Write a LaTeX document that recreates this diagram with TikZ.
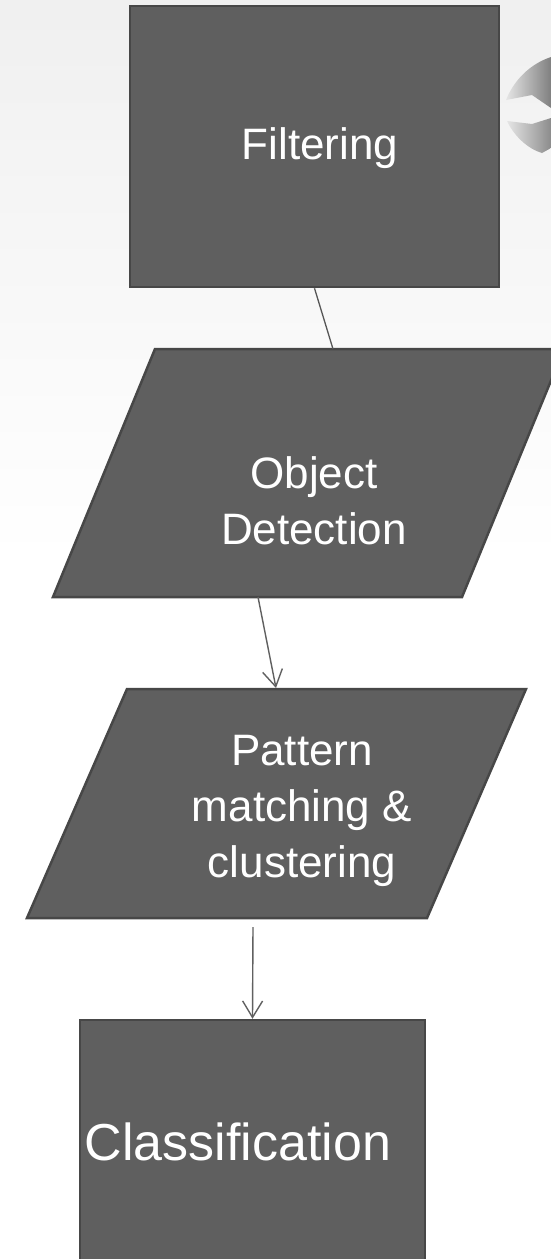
\documentclass[tikz,border=0pt]{standalone}
\usepackage{fontspec}
\setmainfont{Liberation Sans}
\usetikzlibrary{arrows.meta}
\definecolor{boxfill}{HTML}{5F5F5F}
\definecolor{boxedge}{HTML}{474747}
\definecolor{wire}{HTML}{606060}
\tikzset{
  stepbox/.style={draw=boxedge, line width=2.5pt, fill=boxfill, inner sep=0pt},
  steptext/.style={text=white, font=\fontsize{44}{56}\selectfont, align=center, inner sep=0pt},
  flow/.style={draw=wire, line width=1.4pt, -{Straight Barb[length=16.5pt, width=20pt, line width=1.4pt]}},
  link/.style={draw=wire!90!black, line width=1.3pt}
}
\begin{document}
\begin{tikzpicture}[x=1pt, y=-1pt]
  \useasboundingbox (0,0) rectangle (551,1259);
  \clip (0,0) rectangle (551,1259);
  % soft grey backdrop fading out towards the bottom
  \fill[white] (0,0) rectangle (551,1259);
  \shade[top color=black!6, bottom color=white] (0,0) rectangle (551,560);

  % decorative emblem, top right
  \shade[left color=black!10, right color=black!50] (551,57) .. controls (530,64) and (514,80) .. (506,100)
        -- (532,95) -- (551,108) -- cycle;
  \shade[left color=black!10, right color=black!45] (551,118) -- (532,124) -- (507,121)
        .. controls (514,136) and (528,149) .. (542,153) -- (551,148) -- cycle;

  % process steps
  \node[stepbox, minimum width=369pt, minimum height=281pt] (filter) at (314.5,146.5) {};
  \draw[stepbox] (155,349) coordinate (detTL) -- (564,349) -- (462,597) -- (53,597) -- cycle;
  \draw[stepbox] (127,689) coordinate (patTL) -- (526,689) -- (427,918) -- (27,918) -- cycle;
  \node[stepbox, minimum width=345pt, minimum height=240pt] (classify) at (252.5,1140) {};

  % step labels
  \node[steptext] (filterlbl) at (320,148) {Filtering};
  \node[steptext] (detectlbl) at (314,501) {Object\\Detection};
  \node[steptext] (patternlbl) at (302,811) {Pattern\\matching \&\\clustering};
  \node[steptext, font=\fontsize{52}{60}\selectfont] (classifylbl) at (238,1142) {Classification};

  % anchor points for the connectors
  \coordinate (detTop) at (333,349);
  \coordinate (detBot) at (258,597);
  \coordinate (patTop) at (276,688);
  \coordinate (patOut) at (253,927);

  % connectors
  \draw[link] (filter.south) -- (detTop);
  \draw[flow] (detBot) -- (patTop);
  \draw[flow] (patOut) -- (classify.north);
\end{tikzpicture}
\end{document}
